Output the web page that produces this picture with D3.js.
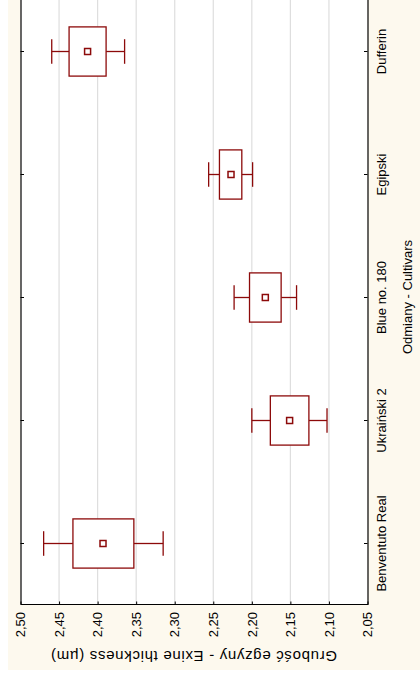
<!DOCTYPE html>
<html>
<head>
<meta charset="utf-8">
<script src="https://cdn.jsdelivr.net/npm/d3@7/dist/d3.min.js"></script>
<style>
  html, body { margin: 0; padding: 0; background: #ffffff; }
  svg { display: block; }
</style>
</head>
<body>
<script>
// Cultivars along the category axis and the summary statistics of exine thickness (µm)
const cultivars   = ["Benventuto Real", "Ukraiński 2", "Blue no. 180", "Egipski", "Dufferin"];
const means       = [2.393, 2.151, 2.1825, 2.227, 2.413];
const boxLow      = [2.353, 2.126, 2.162, 2.213, 2.389];
const boxHigh     = [2.432, 2.176, 2.203, 2.242, 2.437];
const whiskerLow  = [2.315, 2.1025, 2.142, 2.199, 2.365];
const whiskerHigh = [2.470, 2.200, 2.223, 2.256, 2.4595];
const valueTicks  = [2.05, 2.10, 2.15, 2.20, 2.25, 2.30, 2.35, 2.40, 2.45, 2.50];

const FONT = "'Liberation Sans', Arial, Helvetica, sans-serif";
const BOX_COLOR = "#8c0a0a";

const svg = d3.select("body").append("svg")
  .attr("width", 420)
  .attr("height", 674);

svg.append("rect").attr("width", 420).attr("height", 674).attr("fill", "#ffffff");

// The chart is laid out as an upright box plot and turned a quarter turn
// counter-clockwise on the page.
const g = svg.append("g").attr("transform", "translate(0,674) rotate(-90)");

const plot = { left: 69, right: 684, top: 20.5, bottom: 367.5 };

// panel background
g.append("rect")
  .attr("x", 4).attr("y", 8)
  .attr("width", 720).attr("height", 420)
  .attr("fill", "#fdf9ee");

// plot area
g.append("rect")
  .attr("x", plot.left).attr("y", plot.top)
  .attr("width", plot.right - plot.left).attr("height", plot.bottom - plot.top)
  .attr("fill", "#ffffff");

const y = d3.scaleLinear().domain([2.05, 2.50]).range([plot.bottom, plot.top]);
const x = d3.scaleBand().domain(cultivars).range([plot.left, plot.right]).padding(0);

// horizontal gridlines
g.append("g")
  .selectAll("line")
  .data(valueTicks.filter(v => v > 2.05 + 1e-9 && v < 2.50 - 1e-9))
  .join("line")
  .attr("x1", plot.left).attr("x2", plot.right)
  .attr("y1", d => y(d)).attr("y2", d => y(d))
  .attr("stroke", "#dedede")
  .attr("stroke-width", 1.2);

const fmt = d => d3.format(".2f")(d).replace(".", ",");

// value axis
const yAxis = g.append("g")
  .attr("transform", `translate(${plot.left},0)`)
  .call(d3.axisLeft(y).tickValues(valueTicks).tickFormat(fmt)
    .tickSizeInner(-3.5).tickSizeOuter(0).tickPadding(7));
yAxis.attr("font-family", FONT).attr("font-size", 13);
yAxis.select(".domain").attr("stroke", "#000").attr("stroke-width", 1.2);
yAxis.selectAll(".tick line").attr("stroke", "#000");
yAxis.selectAll(".tick text").attr("fill", "#000");

// category axis
const xAxis = g.append("g")
  .attr("transform", `translate(0,${plot.bottom})`)
  .call(d3.axisBottom(x).tickSizeInner(-3.5).tickSizeOuter(0).tickPadding(0));
xAxis.attr("font-family", FONT).attr("font-size", 13);
xAxis.select(".domain").attr("stroke", "#000").attr("stroke-width", 1.2);
xAxis.selectAll(".tick line").attr("stroke", "#000");
xAxis.selectAll(".tick text").attr("fill", "#000").attr("y", 18.5).attr("dy", null);

// opposite frame edge with inward ticks
const xTop = g.append("g")
  .attr("transform", `translate(0,${plot.top})`)
  .call(d3.axisTop(x).tickSizeInner(-3.5).tickSizeOuter(0).tickFormat(""));
xTop.select(".domain").attr("stroke", "#000").attr("stroke-width", 1.2);
xTop.selectAll(".tick line").attr("stroke", "#000");

// axis titles
g.append("text")
  .attr("transform", `translate(23,${(plot.top + plot.bottom) / 2}) rotate(-90)`)
  .attr("text-anchor", "middle")
  .attr("font-family", FONT).attr("font-size", 15)
  .attr("textLength", 286).attr("lengthAdjust", "spacing")
  .attr("fill", "#000")
  .text("Grubość egzyny - Exine thickness (µm)");

g.append("text")
  .attr("x", 377).attr("y", 412)
  .attr("text-anchor", "middle")
  .attr("font-family", FONT).attr("font-size", 13)
  .attr("fill", "#000")
  .text("Odmiany - Cultivars");

// boxes, whiskers and mean markers
const bw = x.bandwidth();
const boxW = bw * 0.4;
const capW = bw * 0.2;
const marks = g.append("g")
  .attr("fill", "none")
  .attr("stroke", BOX_COLOR)
  .attr("stroke-width", 1.3);

cultivars.forEach((c, i) => {
  const cx = x(c) + bw / 2;
  const grp = marks.append("g");
  // whiskers
  grp.append("line").attr("x1", cx).attr("x2", cx)
    .attr("y1", y(whiskerHigh[i])).attr("y2", y(boxHigh[i]));
  grp.append("line").attr("x1", cx).attr("x2", cx)
    .attr("y1", y(boxLow[i])).attr("y2", y(whiskerLow[i]));
  grp.append("line").attr("x1", cx - capW / 2).attr("x2", cx + capW / 2)
    .attr("y1", y(whiskerHigh[i])).attr("y2", y(whiskerHigh[i]));
  grp.append("line").attr("x1", cx - capW / 2).attr("x2", cx + capW / 2)
    .attr("y1", y(whiskerLow[i])).attr("y2", y(whiskerLow[i]));
  // box
  grp.append("rect")
    .attr("x", cx - boxW / 2).attr("width", boxW)
    .attr("y", y(boxHigh[i])).attr("height", y(boxLow[i]) - y(boxHigh[i]))
    .attr("fill", "#ffffff");
  // mean
  grp.append("rect")
    .attr("x", cx - 3).attr("width", 6)
    .attr("y", y(means[i]) - 3).attr("height", 6)
    .attr("fill", "#ffffff")
    .attr("stroke-width", 1.5);
});
</script>
</body>
</html>
